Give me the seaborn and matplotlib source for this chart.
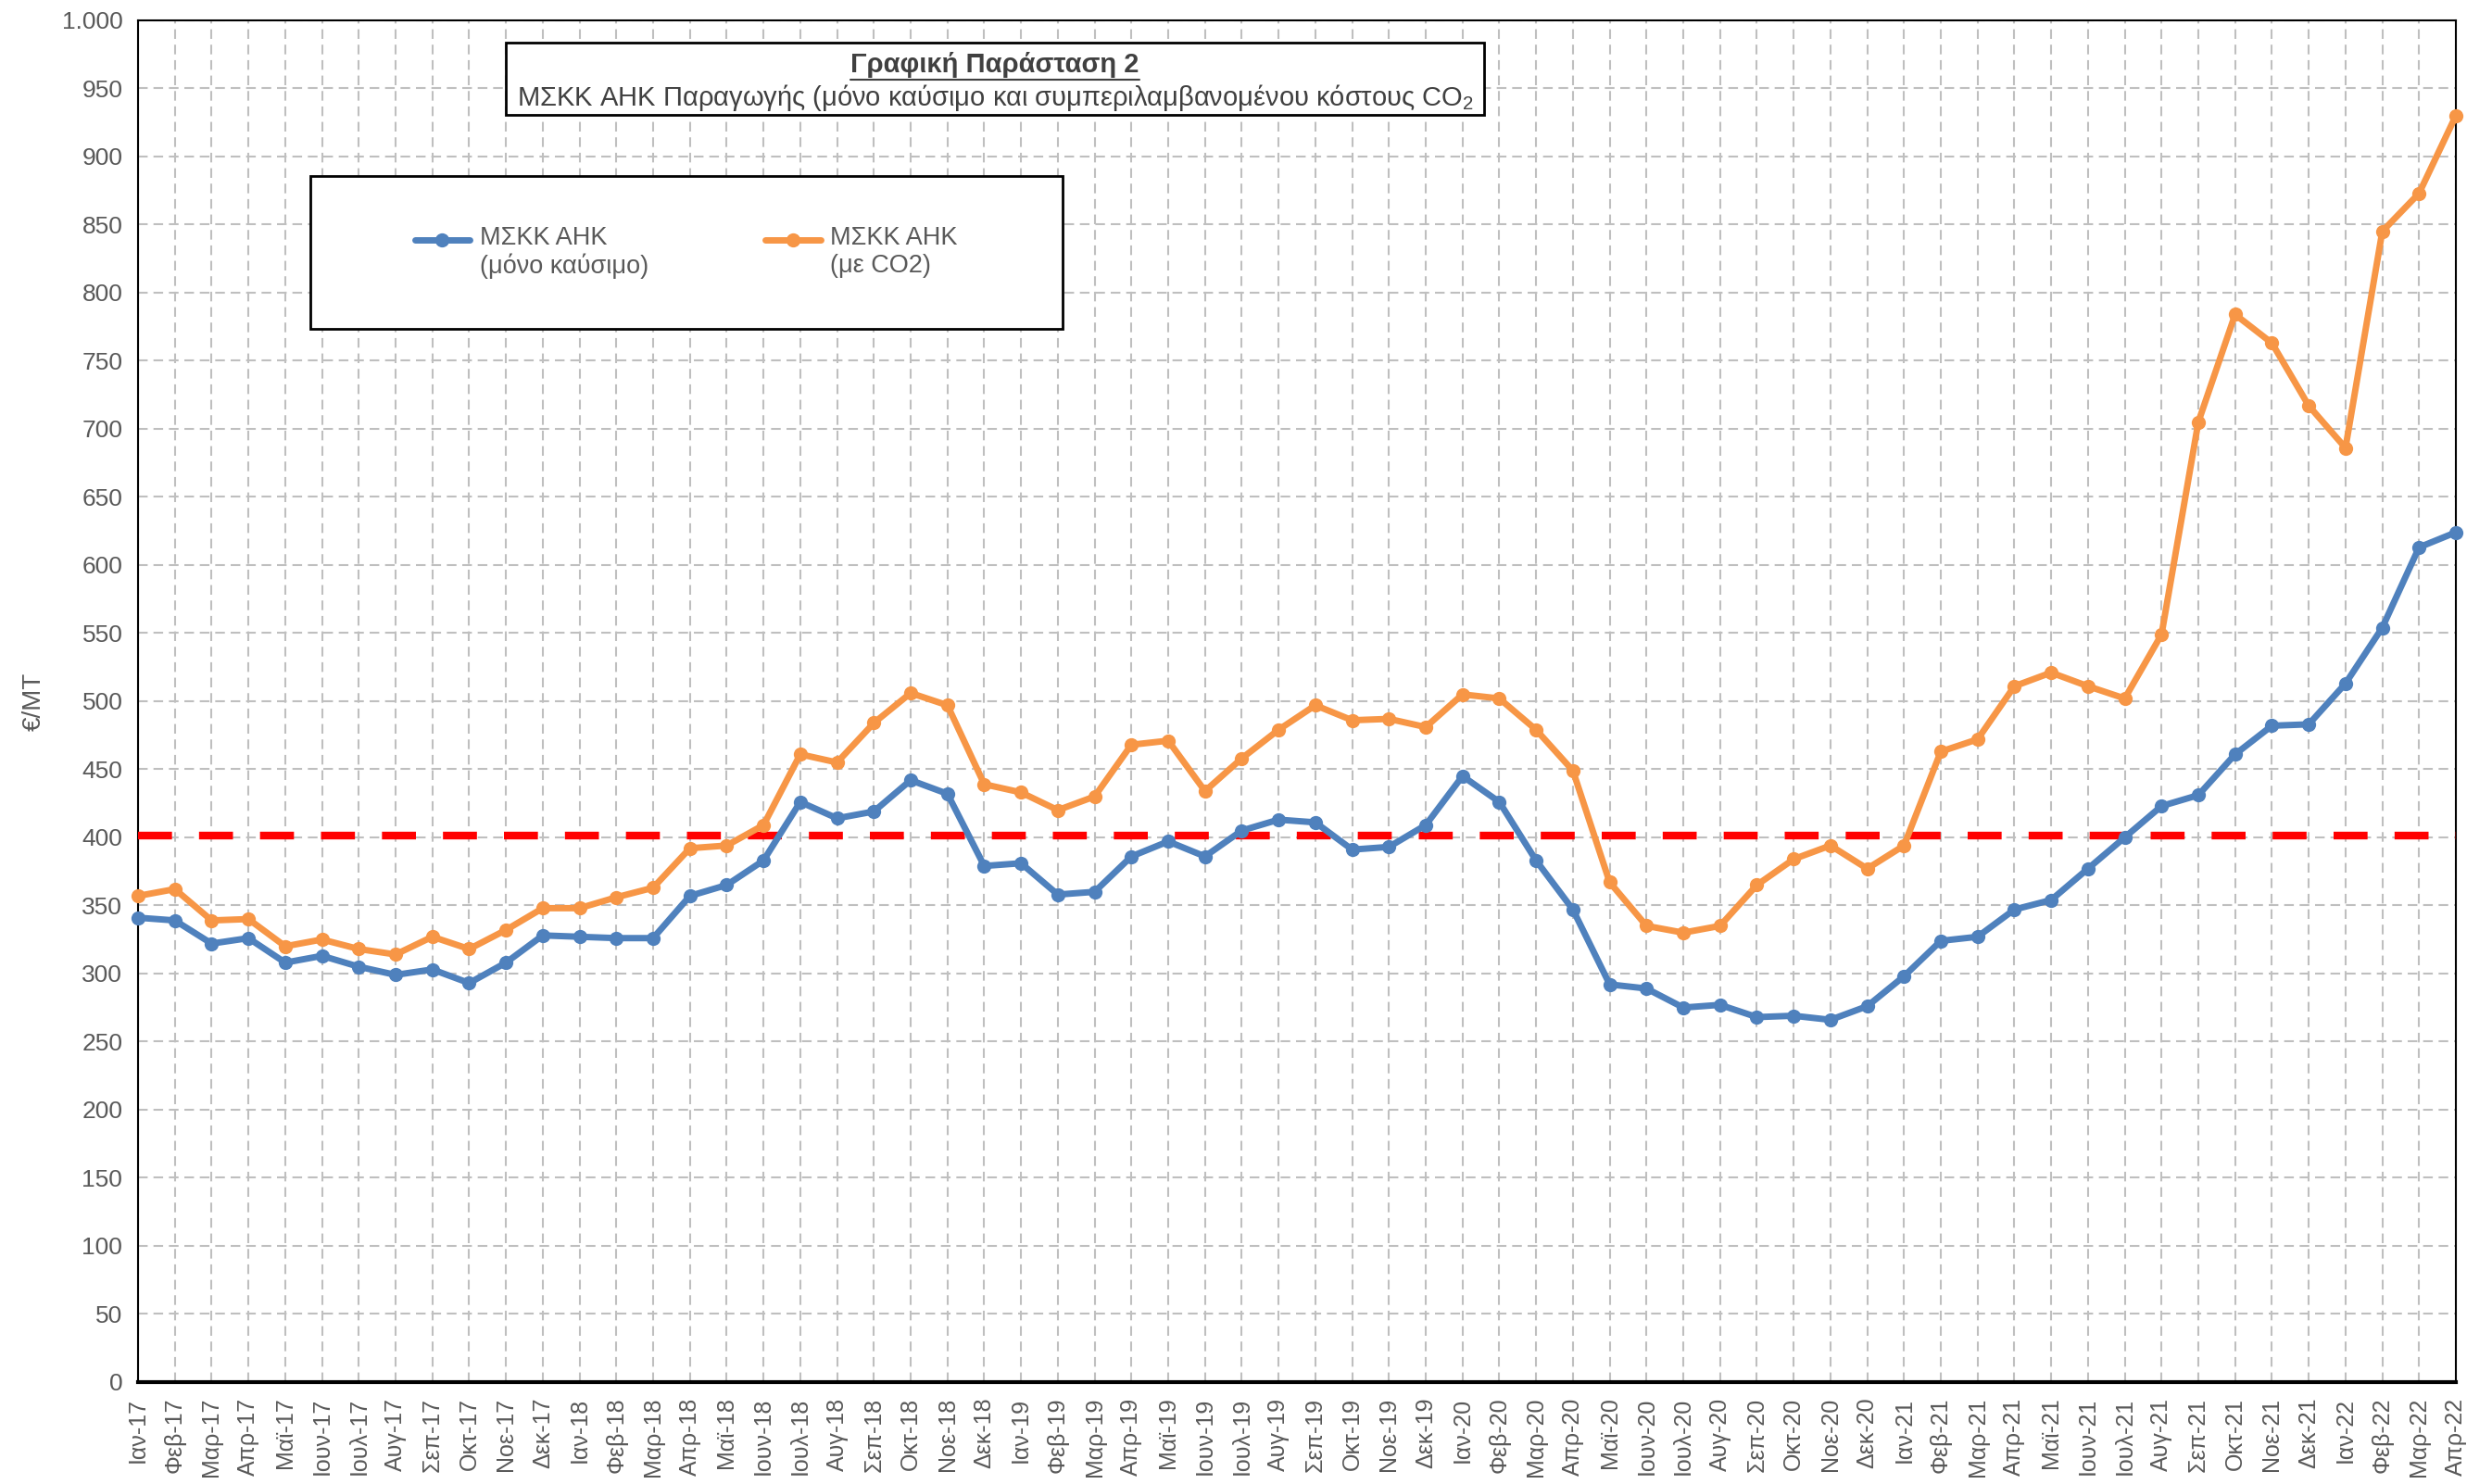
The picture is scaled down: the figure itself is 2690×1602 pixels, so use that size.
import matplotlib
matplotlib.use("Agg")
import matplotlib.pyplot as plt
from matplotlib.patches import Rectangle
from matplotlib.lines import Line2D
from matplotlib.legend_handler import HandlerLine2D
from matplotlib.ticker import FuncFormatter, MultipleLocator
import pandas as pd
import seaborn as sns

# Data
month_names = ["Ιαν", "Φεβ", "Μαρ", "Απρ", "Μαϊ", "Ιουν", "Ιουλ", "Αυγ", "Σεπ", "Οκτ", "Νοε", "Δεκ"]
years = ["17", "18", "19", "20", "21", "22"]
month_labels = [f"{m}-{y}" for y in years for m in month_names][:64]

fuel_only = [341, 339, 322, 326, 308, 313, 305, 299, 303, 293, 308, 328,
             327, 326, 326, 357, 365, 383, 426, 414, 419, 442, 432, 379,
             381, 358, 360, 386, 397, 386, 405, 413, 411, 391, 393, 409,
             445, 426, 383, 347, 292, 289, 275, 277, 268, 269, 266, 276,
             298, 324, 327, 347, 354, 377, 400, 423, 431, 461, 482, 483,
             513, 554, 613, 624]
with_co2 = [357, 362, 339, 340, 320, 325, 318, 314, 327, 318, 332, 348,
            348, 356, 363, 392, 394, 409, 461, 455, 484, 506, 497, 439,
            433, 420, 430, 468, 471, 434, 458, 479, 497, 486, 487, 481,
            505, 502, 479, 449, 367, 335, 330, 335, 365, 384, 394, 377,
            394, 463, 472, 511, 521, 511, 502, 549, 705, 784, 763, 717,
            686, 845, 873, 930]
threshold = 401

label_fuel = "ΜΣΚΚ ΑΗΚ\n(μόνο καύσιμο)"
label_co2 = "ΜΣΚΚ ΑΗΚ\n(με CO2)"
title_1 = "Γραφική Παράσταση 2"
title_2 = "ΜΣΚΚ ΑΗΚ Παραγωγής (μόνο καύσιμο και συμπεριλαμβανομένου κόστους CO$_\\mathregular{2}$"


class RaisedHandler(HandlerLine2D):
    # put the legend line next to the first text line, like Excel does
    def create_artists(self, legend, orig_handle, xdescent, ydescent, width, height, fontsize, trans):
        return super().create_artists(legend, orig_handle, xdescent, ydescent - 1.0 * fontsize,
                                      width, height, fontsize, trans)


df = pd.DataFrame({"month": range(len(month_labels)), "fuel": fuel_only, "co2": with_co2})

sns.set_style("white")
plt.rcParams["font.family"] = ["Liberation Sans", "DejaVu Sans"]
text_gray = "#595959"

fig = plt.figure(figsize=(26.9, 16.02), dpi=100)
ax = fig.add_axes([0.0554, 0.0687, 0.9301, 0.9176])

blue = "#4F81BD"
orange = "#F79646"
sns.lineplot(data=df, x="month", y="fuel", ax=ax, color=blue, marker="o", markersize=11,
             markeredgewidth=0, linewidth=5, label=label_fuel, clip_on=False, zorder=4)
sns.lineplot(data=df, x="month", y="co2", ax=ax, color=orange, marker="o", markersize=11,
             markeredgewidth=0, linewidth=5, label=label_co2, clip_on=False, zorder=4)
ax.axhline(threshold, color="#FF0000", linewidth=6, linestyle=(0, (4.4, 3.5)), zorder=3)

# Axes / grid
ax.set_xlim(0, len(month_labels) - 1)
ax.set_ylim(0, 1000)
ax.yaxis.set_major_locator(MultipleLocator(50))
ax.yaxis.set_major_formatter(FuncFormatter(lambda v, p: f"{v:,.0f}".replace(",", ".")))
ax.set_xticks(df["month"])
ax.set_xticklabels(month_labels, rotation=90)
ax.tick_params(axis="x", length=6, width=1.5, color="black", labelsize=18, labelcolor=text_gray, pad=6)
ax.tick_params(axis="y", length=0, labelsize=19, labelcolor=text_gray, pad=12)
ax.grid(True, color="#BFBFBF", linestyle=(0, (5, 3)), linewidth=1.5)
for s in ["left", "right", "top"]:
    ax.spines[s].set_color("black")
    ax.spines[s].set_linewidth(1.5)
ax.spines["bottom"].set_color("black")
ax.spines["bottom"].set_linewidth(3)
ax.set_xlabel("")
ax.set_ylabel("€/MT", fontsize=20, color=text_gray, labelpad=12)

# Legend inside a framed box
ax.add_patch(Rectangle((0.0743, 0.7735), 0.3244, 0.1122, transform=ax.transAxes,
                       facecolor="white", edgecolor="black", linewidth=2, zorder=5))
handles, labels = ax.get_legend_handles_labels()
leg = ax.legend(handles, labels, loc="center", bbox_to_anchor=(0.2365, 0.8296), ncol=2, frameon=False,
                fontsize=19.5, handlelength=2.2, handletextpad=0.4, columnspacing=4.65,
                labelcolor=text_gray, handler_map={h: RaisedHandler() for h in handles})
leg.set_zorder(6)

# Title box
ax.add_patch(Rectangle((0.1587, 0.9306), 0.4220, 0.0531, transform=ax.transAxes,
                       facecolor="white", edgecolor="black", linewidth=2, zorder=5))
t1 = ax.text(0.3697, 0.967, title_1, transform=ax.transAxes, ha="center", va="center",
             fontsize=21, fontweight="bold", color="#404040", zorder=6)
ax.text(0.3697, 0.9435, title_2, transform=ax.transAxes, ha="center", va="center",
        fontsize=21, color="#404040", zorder=6)

fig.canvas.draw()
bb = t1.get_window_extent(fig.canvas.get_renderer()).transformed(ax.transAxes.inverted())
ax.add_line(Line2D([bb.x0, bb.x1], [bb.y0 - 0.001, bb.y0 - 0.001], transform=ax.transAxes,
                   color="#404040", linewidth=1.5, zorder=6))

fig.savefig("out.png", dpi=100)
